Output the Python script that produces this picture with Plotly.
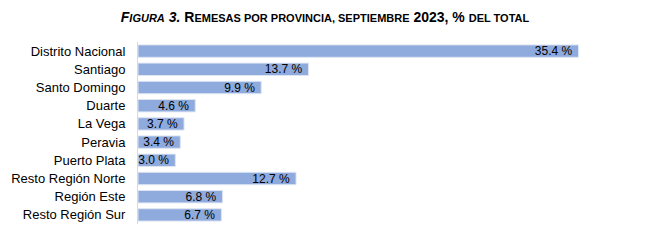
import plotly.graph_objects as go

provinces = ["Distrito Nacional", "Santiago", "Santo Domingo", "Duarte", "La Vega",
             "Peravia", "Puerto Plata", "Resto Región Norte", "Región Este", "Resto Región Sur"]
shares = [35.4, 13.7, 9.9, 4.6, 3.7, 3.4, 3.0, 12.7, 6.8, 6.7]
labels = [f"{v:.1f} %\u00a0" for v in shares]

title_text = ("<i>F<span style='font-size:11px'>IGURA</span> 3.</i> "
              "R<span style='font-size:11px'>EMESAS POR PROVINCIA, SEPTIEMBRE</span> 2023, "
              "% <span style='font-size:11px'>DEL TOTAL</span>")

fig = go.Figure(go.Bar(
    y=provinces, x=shares, orientation="h",
    text=labels, textposition="inside", insidetextanchor="end",
    constraintext="none", cliponaxis=False,
    textfont=dict(family="Liberation Sans, Arial", size=12, color="#000000"),
    marker=dict(color="#8FAADC", line=dict(color="#DDE5F3", width=1)),
    width=0.68,
))

fig.update_layout(
    width=650, height=241,
    margin=dict(l=138, r=64, t=42, b=17),
    paper_bgcolor="white", plot_bgcolor="white",
    showlegend=False,
    title=dict(
        text=title_text,
        x=0.5, xanchor="center", y=0.93, yanchor="middle",
        font=dict(family="Liberation Sans, Arial", size=14, color="#000000", weight="bold"),
    ),
    font=dict(family="Liberation Sans, Arial", size=13, color="#000000"),
)
fig.update_xaxes(range=[0, 36], visible=False, fixedrange=True, automargin=False)
fig.update_yaxes(autorange="reversed", showline=True, linecolor="#D9D9D9", linewidth=1,
                 ticks="outside", ticklen=9, tickcolor="white", automargin=False,
                 tickfont=dict(family="Liberation Sans, Arial", size=13, color="#000000"),
                 showgrid=False)

fig.write_html("out.html")
